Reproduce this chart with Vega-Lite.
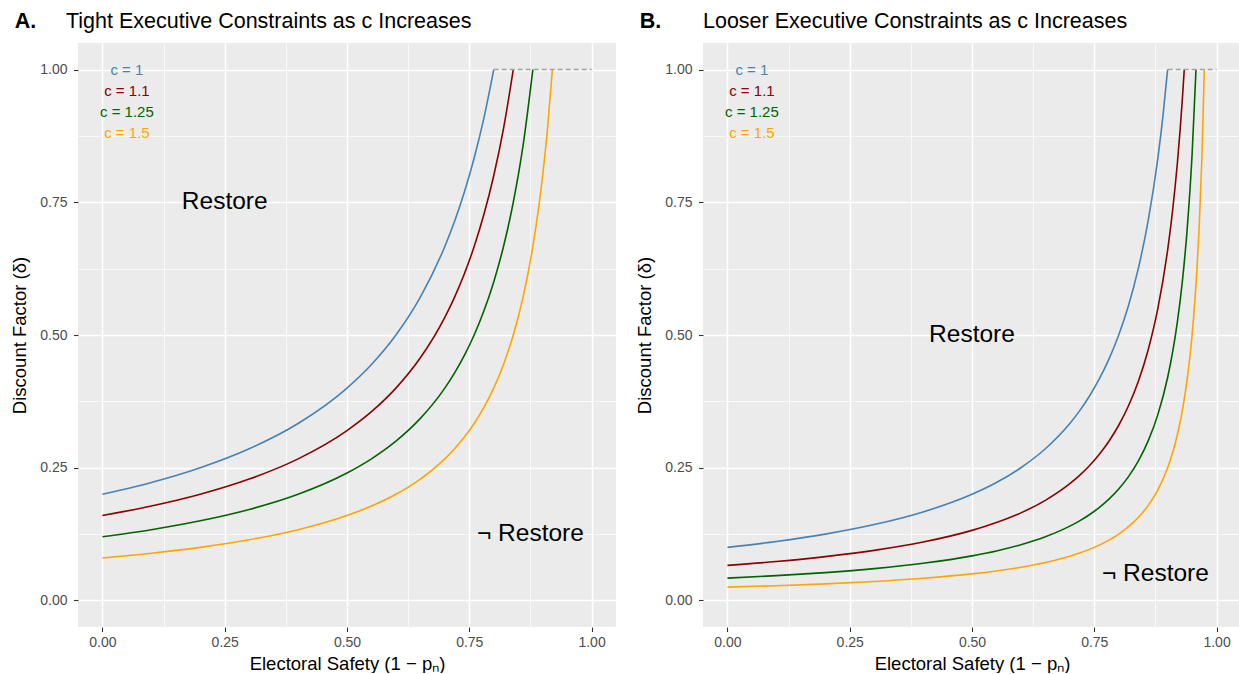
{
  "$schema": "https://vega.github.io/schema/vega-lite/v6.json",
  "padding": {"left": 10, "top": 10, "right": 0, "bottom": 0},
  "datasets": {
    "curvesA": [
      {"c": "1", "x": 0, "delta": 0.2}, {"c": "1", "x": 0.1, "delta": 0.2222}, {"c": "1", "x": 0.2, "delta": 0.25}, {"c": "1", "x": 0.3, "delta": 0.2857}, {"c": "1", "x": 0.4, "delta": 0.3333}, {"c": "1", "x": 0.5, "delta": 0.4}, {"c": "1", "x": 0.55, "delta": 0.4444}, {"c": "1", "x": 0.6, "delta": 0.5}, {"c": "1", "x": 0.65, "delta": 0.5714}, {"c": "1", "x": 0.7, "delta": 0.6667}, {"c": "1", "x": 0.72, "delta": 0.7143}, {"c": "1", "x": 0.74, "delta": 0.7692}, {"c": "1", "x": 0.76, "delta": 0.8333}, {"c": "1", "x": 0.78, "delta": 0.9091}, {"c": "1", "x": 0.8, "delta": 1.0},
      {"c": "1.1", "x": 0, "delta": 0.16}, {"c": "1.1", "x": 0.1, "delta": 0.1778}, {"c": "1.1", "x": 0.2, "delta": 0.2}, {"c": "1.1", "x": 0.3, "delta": 0.2286}, {"c": "1.1", "x": 0.4, "delta": 0.2667}, {"c": "1.1", "x": 0.5, "delta": 0.32}, {"c": "1.1", "x": 0.55, "delta": 0.3556}, {"c": "1.1", "x": 0.6, "delta": 0.4}, {"c": "1.1", "x": 0.65, "delta": 0.4571}, {"c": "1.1", "x": 0.7, "delta": 0.5333}, {"c": "1.1", "x": 0.72, "delta": 0.5714}, {"c": "1.1", "x": 0.74, "delta": 0.6154}, {"c": "1.1", "x": 0.76, "delta": 0.6667}, {"c": "1.1", "x": 0.78, "delta": 0.7273}, {"c": "1.1", "x": 0.8, "delta": 0.8}, {"c": "1.1", "x": 0.82, "delta": 0.8889}, {"c": "1.1", "x": 0.84, "delta": 1.0},
      {"c": "1.25", "x": 0, "delta": 0.12}, {"c": "1.25", "x": 0.1, "delta": 0.1333}, {"c": "1.25", "x": 0.2, "delta": 0.15}, {"c": "1.25", "x": 0.3, "delta": 0.1714}, {"c": "1.25", "x": 0.4, "delta": 0.2}, {"c": "1.25", "x": 0.5, "delta": 0.24}, {"c": "1.25", "x": 0.55, "delta": 0.2667}, {"c": "1.25", "x": 0.6, "delta": 0.3}, {"c": "1.25", "x": 0.65, "delta": 0.3429}, {"c": "1.25", "x": 0.7, "delta": 0.4}, {"c": "1.25", "x": 0.72, "delta": 0.4286}, {"c": "1.25", "x": 0.74, "delta": 0.4615}, {"c": "1.25", "x": 0.76, "delta": 0.5}, {"c": "1.25", "x": 0.78, "delta": 0.5455}, {"c": "1.25", "x": 0.8, "delta": 0.6}, {"c": "1.25", "x": 0.82, "delta": 0.6667}, {"c": "1.25", "x": 0.84, "delta": 0.75}, {"c": "1.25", "x": 0.86, "delta": 0.8571}, {"c": "1.25", "x": 0.88, "delta": 1.0},
      {"c": "1.5", "x": 0, "delta": 0.08}, {"c": "1.5", "x": 0.1, "delta": 0.0889}, {"c": "1.5", "x": 0.2, "delta": 0.1}, {"c": "1.5", "x": 0.3, "delta": 0.1143}, {"c": "1.5", "x": 0.4, "delta": 0.1333}, {"c": "1.5", "x": 0.5, "delta": 0.16}, {"c": "1.5", "x": 0.55, "delta": 0.1778}, {"c": "1.5", "x": 0.6, "delta": 0.2}, {"c": "1.5", "x": 0.65, "delta": 0.2286}, {"c": "1.5", "x": 0.7, "delta": 0.2667}, {"c": "1.5", "x": 0.72, "delta": 0.2857}, {"c": "1.5", "x": 0.74, "delta": 0.3077}, {"c": "1.5", "x": 0.76, "delta": 0.3333}, {"c": "1.5", "x": 0.78, "delta": 0.3636}, {"c": "1.5", "x": 0.8, "delta": 0.4}, {"c": "1.5", "x": 0.82, "delta": 0.4444}, {"c": "1.5", "x": 0.84, "delta": 0.5}, {"c": "1.5", "x": 0.86, "delta": 0.5714}, {"c": "1.5", "x": 0.88, "delta": 0.6667}, {"c": "1.5", "x": 0.9, "delta": 0.8}, {"c": "1.5", "x": 0.91, "delta": 0.8889}, {"c": "1.5", "x": 0.92, "delta": 1.0}
    ],
    "curvesB": [
      {"c": "1", "x": 0, "delta": 0.1}, {"c": "1", "x": 0.1, "delta": 0.1111}, {"c": "1", "x": 0.2, "delta": 0.125}, {"c": "1", "x": 0.3, "delta": 0.1429}, {"c": "1", "x": 0.4, "delta": 0.1667}, {"c": "1", "x": 0.5, "delta": 0.2}, {"c": "1", "x": 0.55, "delta": 0.2222}, {"c": "1", "x": 0.6, "delta": 0.25}, {"c": "1", "x": 0.65, "delta": 0.2857}, {"c": "1", "x": 0.7, "delta": 0.3333}, {"c": "1", "x": 0.72, "delta": 0.3571}, {"c": "1", "x": 0.74, "delta": 0.3846}, {"c": "1", "x": 0.76, "delta": 0.4167}, {"c": "1", "x": 0.78, "delta": 0.4545}, {"c": "1", "x": 0.8, "delta": 0.5}, {"c": "1", "x": 0.82, "delta": 0.5556}, {"c": "1", "x": 0.84, "delta": 0.625}, {"c": "1", "x": 0.86, "delta": 0.7143}, {"c": "1", "x": 0.88, "delta": 0.8333}, {"c": "1", "x": 0.89, "delta": 0.9091}, {"c": "1", "x": 0.9, "delta": 1.0},
      {"c": "1.1", "x": 0, "delta": 0.066}, {"c": "1.1", "x": 0.1, "delta": 0.0733}, {"c": "1.1", "x": 0.2, "delta": 0.0825}, {"c": "1.1", "x": 0.3, "delta": 0.0943}, {"c": "1.1", "x": 0.4, "delta": 0.11}, {"c": "1.1", "x": 0.5, "delta": 0.132}, {"c": "1.1", "x": 0.55, "delta": 0.1467}, {"c": "1.1", "x": 0.6, "delta": 0.165}, {"c": "1.1", "x": 0.65, "delta": 0.1886}, {"c": "1.1", "x": 0.7, "delta": 0.22}, {"c": "1.1", "x": 0.72, "delta": 0.2357}, {"c": "1.1", "x": 0.74, "delta": 0.2538}, {"c": "1.1", "x": 0.76, "delta": 0.275}, {"c": "1.1", "x": 0.78, "delta": 0.3}, {"c": "1.1", "x": 0.8, "delta": 0.33}, {"c": "1.1", "x": 0.82, "delta": 0.3667}, {"c": "1.1", "x": 0.84, "delta": 0.4125}, {"c": "1.1", "x": 0.86, "delta": 0.4714}, {"c": "1.1", "x": 0.88, "delta": 0.55}, {"c": "1.1", "x": 0.9, "delta": 0.66}, {"c": "1.1", "x": 0.91, "delta": 0.7333}, {"c": "1.1", "x": 0.92, "delta": 0.825}, {"c": "1.1", "x": 0.93, "delta": 0.9429}, {"c": "1.1", "x": 0.934, "delta": 1.0},
      {"c": "1.25", "x": 0, "delta": 0.042}, {"c": "1.25", "x": 0.1, "delta": 0.0467}, {"c": "1.25", "x": 0.2, "delta": 0.0525}, {"c": "1.25", "x": 0.3, "delta": 0.06}, {"c": "1.25", "x": 0.4, "delta": 0.07}, {"c": "1.25", "x": 0.5, "delta": 0.084}, {"c": "1.25", "x": 0.55, "delta": 0.0933}, {"c": "1.25", "x": 0.6, "delta": 0.105}, {"c": "1.25", "x": 0.65, "delta": 0.12}, {"c": "1.25", "x": 0.7, "delta": 0.14}, {"c": "1.25", "x": 0.72, "delta": 0.15}, {"c": "1.25", "x": 0.74, "delta": 0.1615}, {"c": "1.25", "x": 0.76, "delta": 0.175}, {"c": "1.25", "x": 0.78, "delta": 0.1909}, {"c": "1.25", "x": 0.8, "delta": 0.21}, {"c": "1.25", "x": 0.82, "delta": 0.2333}, {"c": "1.25", "x": 0.84, "delta": 0.2625}, {"c": "1.25", "x": 0.86, "delta": 0.3}, {"c": "1.25", "x": 0.88, "delta": 0.35}, {"c": "1.25", "x": 0.9, "delta": 0.42}, {"c": "1.25", "x": 0.91, "delta": 0.4667}, {"c": "1.25", "x": 0.92, "delta": 0.525}, {"c": "1.25", "x": 0.93, "delta": 0.6}, {"c": "1.25", "x": 0.94, "delta": 0.7}, {"c": "1.25", "x": 0.95, "delta": 0.84}, {"c": "1.25", "x": 0.958, "delta": 1.0},
      {"c": "1.5", "x": 0, "delta": 0.025}, {"c": "1.5", "x": 0.1, "delta": 0.0278}, {"c": "1.5", "x": 0.2, "delta": 0.0313}, {"c": "1.5", "x": 0.3, "delta": 0.0357}, {"c": "1.5", "x": 0.4, "delta": 0.0417}, {"c": "1.5", "x": 0.5, "delta": 0.05}, {"c": "1.5", "x": 0.55, "delta": 0.0556}, {"c": "1.5", "x": 0.6, "delta": 0.0625}, {"c": "1.5", "x": 0.65, "delta": 0.0714}, {"c": "1.5", "x": 0.7, "delta": 0.0833}, {"c": "1.5", "x": 0.72, "delta": 0.0893}, {"c": "1.5", "x": 0.74, "delta": 0.0962}, {"c": "1.5", "x": 0.76, "delta": 0.1042}, {"c": "1.5", "x": 0.78, "delta": 0.1136}, {"c": "1.5", "x": 0.8, "delta": 0.125}, {"c": "1.5", "x": 0.82, "delta": 0.1389}, {"c": "1.5", "x": 0.84, "delta": 0.1563}, {"c": "1.5", "x": 0.86, "delta": 0.1786}, {"c": "1.5", "x": 0.88, "delta": 0.2083}, {"c": "1.5", "x": 0.9, "delta": 0.25}, {"c": "1.5", "x": 0.91, "delta": 0.2778}, {"c": "1.5", "x": 0.92, "delta": 0.3125}, {"c": "1.5", "x": 0.93, "delta": 0.3571}, {"c": "1.5", "x": 0.94, "delta": 0.4167}, {"c": "1.5", "x": 0.95, "delta": 0.5}, {"c": "1.5", "x": 0.96, "delta": 0.625}, {"c": "1.5", "x": 0.965, "delta": 0.7143}, {"c": "1.5", "x": 0.97, "delta": 0.8333}, {"c": "1.5", "x": 0.975, "delta": 1.0}
    ],
    "keys": [
      {"c": "1", "label": "c = 1", "x": 0.05, "delta": 1.0},
      {"c": "1.1", "label": "c = 1.1", "x": 0.05, "delta": 0.96},
      {"c": "1.25", "label": "c = 1.25", "x": 0.05, "delta": 0.92},
      {"c": "1.5", "label": "c = 1.5", "x": 0.05, "delta": 0.88}
    ],
    "capA": [{"x": 0.8, "x2": 1.0, "delta": 1.0}],
    "capB": [{"x": 0.9, "x2": 1.0, "delta": 1.0}],
    "regionsA": [
      {"label": "Restore", "x": 0.25, "delta": 0.75},
      {"label": "¬ Restore", "x": 0.875, "delta": 0.125}
    ],
    "regionsB": [
      {"label": "Restore", "x": 0.5, "delta": 0.5},
      {"label": "¬ Restore", "x": 0.875, "delta": 0.05}
    ]
  },
  "hconcat": [
    {
      "title": {"text": "A.", "fontWeight": "bold", "anchor": "start", "frame": "bounds", "offset": -21.5, "dx": 4},
      "vconcat": [
        {
          "title": {"text": "Tight Executive Constraints as c Increases", "anchor": "start", "frame": "group", "dx": -12},
          "width": 538,
          "height": 584,
          "layer": [
            {
              "data": {"name": "curvesA"},
              "mark": {"type": "line", "strokeWidth": 1.6, "interpolate": "monotone"},
              "encoding": {
                "x": {"field": "x", "type": "quantitative", "scale": {"domain": [-0.05, 1.05], "nice": false, "zero": false},
                  "axis": {"title": "Electoral Safety (1 − pₙ)", "values": [0, 0.125, 0.25, 0.375, 0.5, 0.625, 0.75, 0.875, 1],
                    "labelExpr": "(datum.value * 4) % 1 != 0 ? '' : format(datum.value, '.2f')",
                    "gridWidth": {"condition": {"test": "(datum.value * 4) % 1 != 0", "value": 0.7}, "value": 1.5},
                    "tickColor": {"condition": {"test": "(datum.value * 4) % 1 != 0", "value": "transparent"}, "value": "#333333"}}},
                "y": {"field": "delta", "type": "quantitative", "scale": {"domain": [-0.05, 1.05], "nice": false, "zero": false},
                  "axis": {"title": "Discount Factor (δ)", "values": [0, 0.125, 0.25, 0.375, 0.5, 0.625, 0.75, 0.875, 1],
                    "labelExpr": "(datum.value * 4) % 1 != 0 ? '' : format(datum.value, '.2f')",
                    "gridWidth": {"condition": {"test": "(datum.value * 4) % 1 != 0", "value": 0.7}, "value": 1.5},
                    "tickColor": {"condition": {"test": "(datum.value * 4) % 1 != 0", "value": "transparent"}, "value": "#333333"}}},
                "color": {"field": "c", "type": "nominal", "legend": null,
                  "scale": {"domain": ["1", "1.1", "1.25", "1.5"], "range": ["#4682B4", "#8B0000", "#006400", "#FFA500"]}}
              }
            },
            {
              "data": {"name": "capA"},
              "mark": {"type": "rule", "color": "#A0A0A0", "strokeWidth": 1.5, "strokeDash": [5, 3]},
              "encoding": {
                "x": {"field": "x", "type": "quantitative"},
                "x2": {"field": "x2"},
                "y": {"field": "delta", "type": "quantitative"}
              }
            },
            {
              "data": {"name": "keys"},
              "mark": {"type": "text", "fontSize": 15, "align": "center", "baseline": "middle"},
              "encoding": {
                "x": {"field": "x", "type": "quantitative"},
                "y": {"field": "delta", "type": "quantitative"},
                "text": {"field": "label"},
                "color": {"field": "c", "type": "nominal", "legend": null}
              }
            },
            {
              "data": {"name": "regionsA"},
              "mark": {"type": "text", "fontSize": 24.5, "align": "center", "baseline": "middle", "color": "#000000"},
              "encoding": {
                "x": {"field": "x", "type": "quantitative"},
                "y": {"field": "delta", "type": "quantitative"},
                "text": {"field": "label"}
              }
            }
          ]
        }
      ]
    },
    {
      "title": {"text": "B.", "fontWeight": "bold", "anchor": "start", "frame": "bounds", "offset": -21.5, "dx": 4},
      "vconcat": [
        {
          "title": {"text": "Looser Executive Constraints as c Increases", "anchor": "start", "frame": "group", "dx": 0},
          "width": 538,
          "height": 584,
          "layer": [
            {
              "data": {"name": "curvesB"},
              "mark": {"type": "line", "strokeWidth": 1.6, "interpolate": "monotone"},
              "encoding": {
                "x": {"field": "x", "type": "quantitative", "scale": {"domain": [-0.05, 1.05], "nice": false, "zero": false},
                  "axis": {"title": "Electoral Safety (1 − pₙ)", "values": [0, 0.125, 0.25, 0.375, 0.5, 0.625, 0.75, 0.875, 1],
                    "labelExpr": "(datum.value * 4) % 1 != 0 ? '' : format(datum.value, '.2f')",
                    "gridWidth": {"condition": {"test": "(datum.value * 4) % 1 != 0", "value": 0.7}, "value": 1.5},
                    "tickColor": {"condition": {"test": "(datum.value * 4) % 1 != 0", "value": "transparent"}, "value": "#333333"}}},
                "y": {"field": "delta", "type": "quantitative", "scale": {"domain": [-0.05, 1.05], "nice": false, "zero": false},
                  "axis": {"title": "Discount Factor (δ)", "values": [0, 0.125, 0.25, 0.375, 0.5, 0.625, 0.75, 0.875, 1],
                    "labelExpr": "(datum.value * 4) % 1 != 0 ? '' : format(datum.value, '.2f')",
                    "gridWidth": {"condition": {"test": "(datum.value * 4) % 1 != 0", "value": 0.7}, "value": 1.5},
                    "tickColor": {"condition": {"test": "(datum.value * 4) % 1 != 0", "value": "transparent"}, "value": "#333333"}}},
                "color": {"field": "c", "type": "nominal", "legend": null,
                  "scale": {"domain": ["1", "1.1", "1.25", "1.5"], "range": ["#4682B4", "#8B0000", "#006400", "#FFA500"]}}
              }
            },
            {
              "data": {"name": "capB"},
              "mark": {"type": "rule", "color": "#A0A0A0", "strokeWidth": 1.5, "strokeDash": [5, 3]},
              "encoding": {
                "x": {"field": "x", "type": "quantitative"},
                "x2": {"field": "x2"},
                "y": {"field": "delta", "type": "quantitative"}
              }
            },
            {
              "data": {"name": "keys"},
              "mark": {"type": "text", "fontSize": 15, "align": "center", "baseline": "middle"},
              "encoding": {
                "x": {"field": "x", "type": "quantitative"},
                "y": {"field": "delta", "type": "quantitative"},
                "text": {"field": "label"},
                "color": {"field": "c", "type": "nominal", "legend": null}
              }
            },
            {
              "data": {"name": "regionsB"},
              "mark": {"type": "text", "fontSize": 24.5, "align": "center", "baseline": "middle", "color": "#000000"},
              "encoding": {
                "x": {"field": "x", "type": "quantitative"},
                "y": {"field": "delta", "type": "quantitative"},
                "text": {"field": "label"}
              }
            }
          ]
        }
      ]
    }
  ],
  "spacing": 19,
  "resolve": {"scale": {"color": "shared"}},
  "config": {
    "font": "Liberation Sans",
    "view": {"fill": "#EBEBEB", "stroke": null},
    "axis": {
      "domain": false,
      "gridColor": "#FFFFFF",
      "gridOpacity": 1,
      "tickSize": 4.5,
      "tickWidth": 1.1,
      "labelColor": "#4D4D4D",
      "labelFontSize": 14,
      "labelFont": "Liberation Sans",
      "labelOverlap": false,
      "titleFont": "Liberation Sans",
      "titleFontSize": 18.5,
      "titleFontWeight": "normal",
      "titleColor": "#000000"
    },
    "axisX": {"labelPadding": 4, "titlePadding": 5},
    "axisY": {"labelPadding": 6.5, "titlePadding": 10},
    "title": {
      "font": "Liberation Sans",
      "fontSize": 21.5,
      "fontWeight": "normal",
      "color": "#000000",
      "offset": 11
    }
  }
}
